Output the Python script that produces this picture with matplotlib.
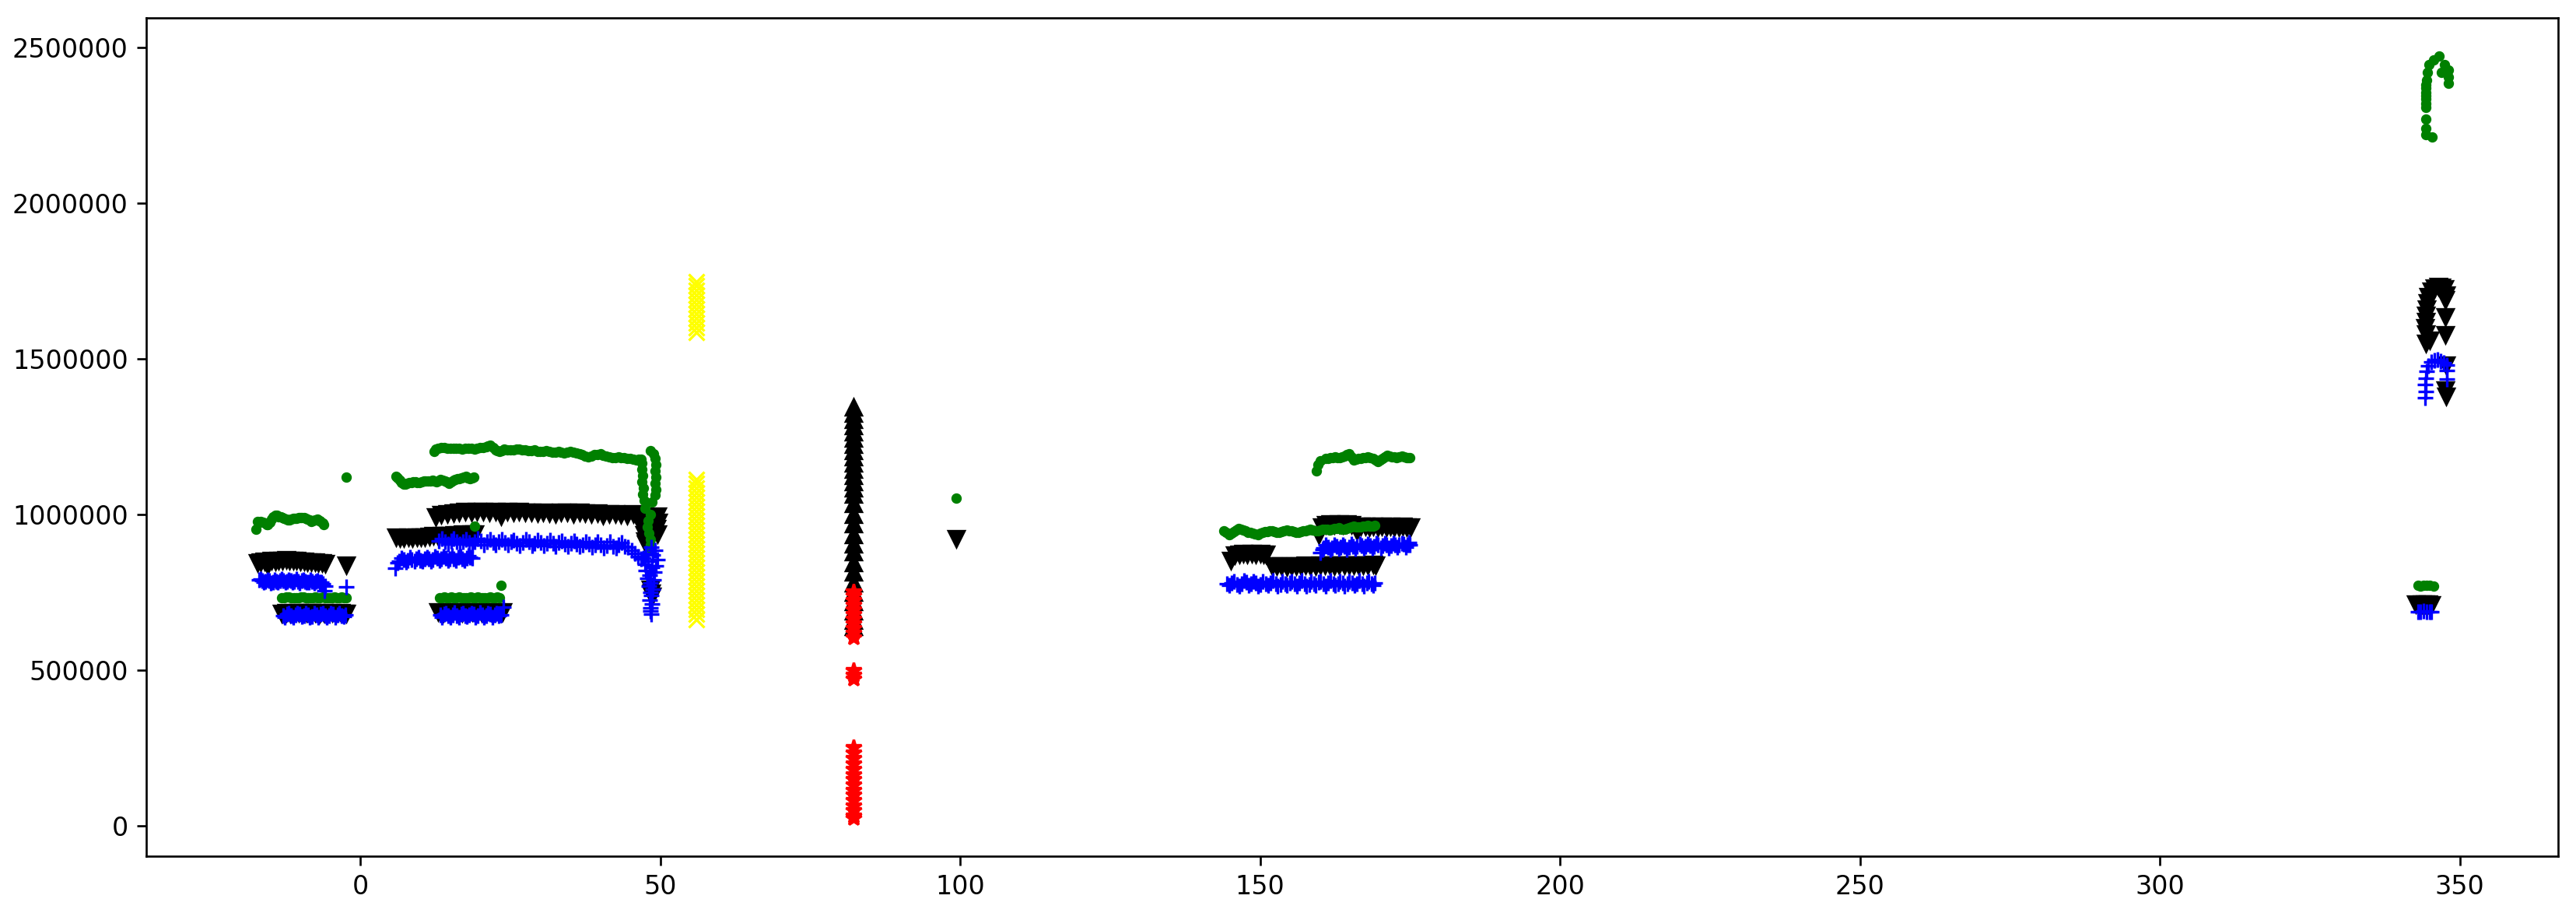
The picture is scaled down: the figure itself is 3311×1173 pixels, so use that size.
import matplotlib
matplotlib.use('Agg')
import matplotlib.pyplot as plt
import numpy as np

# values, y in thousands

# green dots
green_x = [-17.4, -17.2, -16.6, -15.9, -15.4, -14.8, -14.2, -13.6, -13.0, -12.4, -11.8, -11.2, -10.6, -10.0,
           -9.4, -8.8, -8.2, -7.6, -7.1, -6.6, -6.1,
           -2.4,
           -13.1, -12.3, -11.5, -10.7, -9.9, -9.1, -8.3, -7.5, -6.7, -5.9, -5.1, -4.3, -3.5, -2.7, -2.4,
           5.9, 6.6, 7.2, 7.8, 8.5, 9.2, 9.9, 10.6, 11.3, 12.0, 12.7, 13.4, 14.1, 14.8, 15.5, 16.2, 16.9,
           17.6, 18.3, 18.9,
           19.1,
           12.3, 13.0, 14.0, 15.0, 16.0, 17.0, 18.0, 19.0, 20.0, 21.0, 21.7, 22.5, 23.2, 24.0, 25.0, 26.0,
           27.0, 28.0, 29.0, 30.0, 31.0, 32.0, 33.0, 34.0, 35.0, 36.0, 37.0, 38.0, 39.0, 40.0, 41.0, 42.0,
           43.0, 44.0, 45.0, 46.0, 46.8,
           48.4, 48.9, 49.2, 49.3, 49.2, 49.3, 49.2, 49.3, 49.2, 47.0, 46.9, 47.1, 47.0, 47.2, 47.1, 47.3,
           47.4, 48.6, 48.3, 48.0, 47.8, 48.1, 48.3, 48.4, 48.5,
           13.2, 14.0, 14.8, 15.6, 16.4, 17.2, 18.0, 18.8, 19.6, 20.4, 21.2, 22.0, 22.8, 23.2,
           23.4,
           99.4,
           144.0, 144.8, 145.6, 146.4, 147.2, 148.0, 148.8, 149.6, 150.4, 151.2, 152.0, 152.8, 153.6, 154.4,
           155.2, 156.0, 156.8, 157.6, 158.4, 159.2, 160.0, 160.8, 161.6, 162.4, 163.2, 164.0, 164.8, 165.6,
           166.4, 167.2, 168.0, 168.8, 169.1,
           159.4, 159.7, 160.1, 160.9, 161.7, 162.5, 163.3, 164.1, 164.8, 165.6, 166.4, 167.2, 168.0, 168.8,
           169.6, 170.4, 171.2, 172.0, 172.8, 173.6, 174.4, 175.0,
           344.3, 344.3, 344.3, 344.3, 344.3, 344.3, 344.3, 344.3, 344.4, 344.4, 344.5, 344.6, 344.9, 345.6,
           346.5, 347.0, 347.4, 348.1, 348.1, 348.1, 345.4,
           343.0, 343.5, 344.0, 344.5, 345.0, 345.6]
green_y = [954, 979, 978, 972, 967, 985, 999, 994, 990, 985, 983, 988, 989, 990,
           991, 986, 979, 983, 985, 977, 967,
           1121,
           734, 735, 733, 734, 736, 734, 733, 735, 734, 733, 734, 735, 734, 733, 734,
           1124, 1110, 1097, 1100, 1104, 1106, 1103, 1108, 1107, 1110, 1106, 1112, 1109, 1101, 1110, 1115, 1118,
           1122, 1116, 1120,
           962,
           1204, 1214, 1216, 1212, 1213, 1211, 1214, 1210, 1215, 1218, 1224, 1208, 1203, 1210, 1208, 1211,
           1209, 1205, 1207, 1202, 1206, 1200, 1203, 1199, 1204, 1198, 1192, 1185, 1193, 1195, 1188, 1182,
           1186, 1183, 1180, 1176, 1178,
           1205, 1196, 1180, 1160, 1140, 1120, 1100, 1080, 1062, 1165, 1145, 1125, 1105, 1085, 1065, 1045,
           1020, 1040, 1000, 980, 960, 940, 920, 903, 890,
           734, 735, 733, 734, 735, 734, 733, 734, 735, 734, 733, 734, 735, 734,
           772,
           1054,
           949, 936, 945, 955, 950, 944, 940, 936, 943, 946, 948, 942, 945, 950,
           947, 943, 946, 949, 952, 948, 951, 954, 950, 955, 957, 952, 958, 962,
           960, 963, 966, 962, 965,
           1141, 1160, 1174, 1180, 1182, 1185, 1184, 1188, 1196, 1176, 1180, 1183, 1186, 1180,
           1171, 1180, 1191, 1186, 1184, 1187, 1183, 1184,
           2220, 2240, 2270, 2308, 2320, 2335, 2345, 2355, 2370, 2380, 2395, 2420, 2445, 2460,
           2473, 2420, 2445, 2428, 2405, 2385, 2213,
           772, 771, 772, 773, 772, 771]

# green readings in between the ones above (the bands are dense)
green_fill_x = [-16.9, -16.2, -15.6, -15.1, -14.5, -13.9, -13.3, -12.7, -12.1, -11.5, -10.9, -10.3, -9.7,
                -9.1, -8.5, -7.9, -7.3, -6.8, -6.3,
                -12.7, -11.9, -11.1, -10.3, -9.5, -8.7, -7.9, -7.1, -6.3, -5.5, -4.7, -3.9, -3.1,
                6.2, 6.9, 7.5, 8.1, 8.8, 9.5, 10.2, 10.9, 11.6, 12.3, 13.0, 13.7, 14.4, 15.1, 15.8, 16.5,
                17.2, 17.9, 18.6,
                12.6, 13.5, 14.5, 15.5, 16.5, 17.5, 18.5, 19.5, 20.5, 21.3, 22.1, 22.8, 23.6, 24.5, 25.5,
                26.5, 27.5, 28.5, 29.5, 30.5, 31.5, 32.5, 33.5, 34.5, 35.5, 36.5, 37.5, 38.5, 39.5, 40.5,
                41.5, 42.5, 43.5, 44.5, 45.5, 46.4,
                13.6, 14.4, 15.2, 16.0, 16.8, 17.6, 18.4, 19.2, 20.0, 20.8, 21.6, 22.4,
                144.4, 145.2, 146.0, 146.8, 147.6, 148.4, 149.2, 150.0, 150.8, 151.6, 152.4, 153.2, 154.0,
                154.8, 155.6, 156.4, 157.2, 158.0, 158.8, 159.6, 160.4, 161.2, 162.0, 162.8, 163.6, 164.4,
                165.2, 166.0, 166.8, 167.6, 168.4,
                161.3, 162.1, 162.9, 163.7, 164.5, 165.2, 166.0, 166.8, 167.6, 168.4, 169.2, 170.0, 170.8,
                171.6, 172.4, 173.2, 174.0, 174.7]
green_fill_y = [976, 975, 969, 975, 992, 997, 992, 988, 984, 985, 989, 990, 991,
                989, 982, 981, 984, 981, 972,
                734, 735, 734, 733, 735, 734, 734, 733, 735, 734, 733, 734, 735,
                1117, 1103, 1098, 1102, 1105, 1104, 1105, 1107, 1108, 1108, 1109, 1110, 1105, 1105, 1112, 1116,
                1120, 1119, 1118,
                1210, 1215, 1214, 1212, 1212, 1213, 1212, 1212, 1216, 1221, 1216, 1205, 1206, 1209, 1209,
                1210, 1207, 1206, 1204, 1204, 1203, 1201, 1201, 1201, 1201, 1195, 1188, 1189, 1194, 1191,
                1185, 1184, 1184, 1181, 1178, 1177,
                734, 733, 735, 734, 734, 733, 735, 734, 733, 734, 735, 734,
                942, 940, 950, 953, 947, 942, 938, 940, 945, 947, 945, 943, 948,
                948, 945, 944, 947, 950, 950, 949, 952, 952, 952, 956, 954, 955,
                960, 961, 961, 964, 964,
                1181, 1183, 1184, 1186, 1192, 1186, 1178, 1181, 1184, 1183, 1175, 1176, 1185,
                1188, 1185, 1185, 1185, 1183]

# black down triangles
tri_dn_x = [-17.2, -16.6, -16.0, -15.4, -14.8, -14.2, -13.6, -13.0, -12.4, -11.8, -11.2, -10.6, -10.0, -9.4,
            -8.8, -8.2, -7.6, -7.0, -6.4, -5.9,
            -2.4,
            -13.1, -12.4, -11.7, -11.0, -10.3, -9.6, -8.9, -8.2, -7.5, -6.8, -6.1, -5.4, -4.7, -4.0, -3.3,
            -2.6, -2.3,
            5.9, 6.6, 7.3, 8.0, 8.7, 9.4, 10.1, 10.8, 11.5, 12.2, 12.9, 13.6, 14.3, 15.0, 15.7, 16.4, 17.1,
            17.8, 18.5, 19.1,
            12.6, 13.5, 14.5, 15.5, 16.5, 17.5, 18.5, 19.5, 20.5, 21.5, 22.5, 23.5, 24.5, 25.5, 26.5, 27.5,
            28.5, 29.5, 30.5, 31.5, 32.5, 33.5, 34.5, 35.5, 36.5, 37.5, 38.5, 39.5, 40.5, 41.5, 42.5, 43.5,
            44.5, 45.5, 46.5,
            47.2, 47.0, 47.3, 47.5, 47.6, 49.5, 49.6, 49.4, 49.5, 48.3, 48.5, 48.6,
            99.4,
            13.0, 13.8, 14.6, 15.4, 16.2, 17.0, 17.8, 18.6, 19.4, 20.2, 21.0, 21.8, 22.6, 23.4, 23.7,
            145.1, 145.8, 146.5, 147.2, 147.9, 148.6, 149.3, 150.0, 150.6, 151.0,
            152.0, 152.8, 153.6, 154.4, 155.2, 156.0, 156.8, 157.6, 158.4, 159.2, 160.0, 160.8, 161.6, 162.4,
            163.2, 164.0, 164.8, 165.6, 166.4, 167.2, 168.0, 168.8, 169.3,
            159.8, 160.3, 161.0, 161.7, 162.4, 163.1, 163.8, 164.5, 165.2, 166.1, 166.8, 167.5, 168.2, 168.9,
            169.6, 170.3, 171.0, 171.7, 172.4, 173.1, 173.8, 174.5, 175.1,
            344.3, 345.0, 344.4, 344.2, 344.3, 344.4, 344.5, 344.6, 344.8, 345.2, 345.8, 346.4, 347.0, 347.5,
            347.7, 347.6, 347.6, 347.6, 347.7, 347.6, 347.7,
            342.7, 343.2, 343.7, 344.2, 344.7, 345.3]
tri_dn_y = [846, 849, 850, 838, 852, 851, 853, 854, 855, 854, 853, 852, 851, 850,
            849, 848, 847, 846, 845, 844,
            837,
            684, 685, 684, 686, 685, 684, 685, 686, 685, 684, 685, 684, 685, 684, 685,
            684, 684,
            928, 926, 925, 927, 926, 928, 927, 929, 930, 932, 931, 933, 934, 933, 935, 936, 937,
            936, 938, 937,
            992, 1000, 1004, 1006, 1008, 1010, 1009, 1011, 1010, 1008, 1011, 996, 1010, 1009, 1010, 1007,
            1009, 1005, 1008, 1006, 1002, 1009, 1007, 1004, 1008, 1006, 1003, 1005, 998, 1004, 1003, 1001,
            999, 1002, 1000,
            985, 960, 935, 915, 905, 995, 975, 955, 937, 760, 748, 738,
            924,
            687, 686, 687, 688, 687, 686, 687, 688, 687, 686, 687, 688, 687, 686, 687,
            852, 870, 874, 875, 873, 876, 874, 875, 873, 872,
            835, 836, 835, 834, 836, 835, 836, 837, 836, 835, 837, 838, 837, 836,
            838, 837, 839, 838, 837, 839, 838, 840, 839,
            935, 960, 968, 970, 969, 971, 968, 970, 967, 949, 962, 963, 961, 962,
            960, 963, 961, 962, 960, 961, 962, 960, 961,
            1551, 1560, 1580, 1600, 1620, 1640, 1660, 1680, 1700, 1718, 1728, 1732, 1731, 1725,
            1705, 1690, 1636, 1578, 1480, 1400, 1380,
            712, 711, 712, 713, 712, 711]

# blue plus
plus_x = [-16.9, -16.4, -15.8, -15.2, -14.6, -14.0, -13.4, -12.8, -12.2, -11.6, -11.0, -10.4, -9.8, -9.2,
          -8.6, -8.0, -7.4, -6.8, -6.3, -5.9, -6.0,
          -2.3,
          -12.9, -12.2, -11.5, -10.8, -10.1, -9.4, -8.7, -8.0, -7.3, -6.6, -5.9, -5.2, -4.5, -3.8, -3.1, -2.5,
          5.8, 6.5, 7.2, 7.9, 8.6, 9.3, 10.0, 10.7, 11.4, 12.1, 12.8, 13.5, 14.2, 14.9, 15.6, 16.3, 17.0,
          17.7, 18.3, 18.7,
          13.1, 14.1, 15.1, 16.1, 17.1, 18.1, 19.1, 20.1, 21.1, 22.1, 23.1, 24.1, 25.1, 26.1, 27.1, 28.1,
          29.1, 30.1, 31.1, 32.1, 33.1, 34.1, 35.1, 36.1, 37.1, 38.1, 39.1, 40.1, 41.1, 42.1, 43.1, 44.1,
          44.6, 45.2, 45.8, 46.3, 46.8,
          48.5, 49.2, 47.6, 48.8, 47.2, 49.5, 48.0, 47.4, 49.3, 48.6, 47.6, 49.0, 48.2, 47.8, 48.9, 48.4,
          48.1, 48.7, 48.3, 48.5, 48.2, 48.6, 48.4, 48.3, 48.5,
          13.3, 14.0, 14.7, 15.4, 16.1, 16.8, 17.5, 18.2, 18.9, 19.6, 20.3, 21.0, 21.7, 22.4, 23.1, 23.4,
          23.9,
          144.5, 145.3, 146.1, 146.9, 147.7, 148.5, 149.3, 150.1, 150.9, 151.8, 152.6, 153.4, 154.2, 155.0,
          155.8, 156.6, 157.4, 158.2, 159.0, 159.8, 160.6, 161.4, 162.2, 163.0, 163.8, 164.6, 165.4, 166.2,
          167.0, 167.8, 168.6, 169.1,
          160.1, 160.6, 161.3, 162.0, 162.7, 163.4, 164.1, 164.8, 165.5, 166.2, 166.9, 167.6, 168.3, 169.0,
          169.7, 170.4, 171.1, 171.8, 172.5, 173.2, 173.9, 174.6, 175.0,
          344.2, 344.3, 344.2, 344.4, 344.5, 344.7, 345.2, 345.8, 346.3, 346.8, 347.3, 347.8, 347.8, 347.9,
          343.1, 343.5, 344.0, 344.5, 345.0, 345.3]
plus_y = [790, 788, 785, 787, 784, 786, 789, 788, 786, 787, 785, 786, 787, 785,
          784, 786, 785, 782, 778, 770, 756,
          767,
          676, 679, 674, 677, 680, 675, 678, 673, 677, 680, 676, 674, 679, 677, 675, 678,
          829, 850, 855, 852, 856, 858, 854, 857, 859, 856, 860, 858, 861, 857, 859, 862, 858,
          860, 863, 861,
          915, 913, 916, 912, 914, 911, 913, 915, 912, 910, 913, 911, 912, 909, 910, 912,
          908, 911, 909, 907, 910, 906, 908, 905, 903, 906, 902, 904, 901, 899, 902, 898,
          895, 885, 875, 866, 858,
          895, 885, 875, 870, 860, 855, 850, 840, 835, 830, 820, 815, 805, 795, 790, 780,
          770, 760, 750, 740, 725, 712, 700, 690, 680,
          677, 680, 675, 678, 676, 679, 674, 677, 680, 676, 678, 675, 679, 677, 676, 678,
          704,
          778, 781, 776, 779, 782, 777, 780, 775, 779, 780, 778, 776, 779, 781,
          777, 780, 778, 776, 779, 782, 778, 780, 777, 779, 781, 778, 780, 777,
          779, 781, 778, 780,
          879, 892, 895, 894, 897, 896, 898, 895, 899, 897, 900, 898, 901, 899,
          902, 900, 903, 901, 904, 902, 905, 903, 904,
          1376, 1396, 1419, 1439, 1461, 1478, 1490, 1495, 1497, 1493, 1488, 1480, 1462, 1436,
          689, 687, 690, 688, 689, 687]

# blue readings in between the ones above
plus_fill_x = [-16.6, -16.1, -15.5, -14.9, -14.3, -13.7, -13.1, -12.5, -11.9, -11.3, -10.7, -10.1, -9.5,
               -8.9, -8.3, -7.7, -7.1, -6.5,
               -12.6, -11.9, -11.2, -10.5, -9.8, -9.1, -8.4, -7.7, -7.0, -6.3, -5.6, -4.9, -4.2, -3.5, -2.8,
               6.2, 6.9, 7.6, 8.3, 9.0, 9.7, 10.4, 11.1, 11.8, 12.5, 13.2, 13.9, 14.6, 15.3, 16.0, 16.7,
               17.4, 18.0,
               13.6, 14.6, 15.6, 16.6, 17.6, 18.6, 19.6, 20.6, 21.6, 22.6, 23.6, 24.6, 25.6, 26.6, 27.6,
               28.6, 29.6, 30.6, 31.6, 32.6, 33.6, 34.6, 35.6, 36.6, 37.6, 38.6, 39.6, 40.6, 41.6, 42.6, 43.6,
               13.6, 14.3, 15.0, 15.7, 16.4, 17.1, 17.8, 18.5, 19.2, 19.9, 20.6, 21.3, 22.0, 22.7,
               144.9, 145.7, 146.5, 147.3, 148.1, 148.9, 149.7, 150.5, 151.3, 152.1, 152.9, 153.7, 154.5,
               155.3, 156.1, 156.9, 157.7, 158.5, 159.3, 160.1, 160.9, 161.7, 162.5, 163.3, 164.1, 164.9,
               165.7, 166.5, 167.3, 168.1, 168.9,
               160.4, 161.0, 161.7, 162.4, 163.1, 163.8, 164.5, 165.2, 165.9, 166.6, 167.3, 168.0, 168.7,
               169.4, 170.1, 170.8, 171.5, 172.2, 172.9, 173.6, 174.3, 174.8]
plus_fill_y = [793, 782, 790, 781, 791, 783, 792, 782, 790, 784, 792, 781, 790,
               783, 791, 780, 789, 784,
               670, 683, 671, 682, 672, 684, 670, 683, 671, 682, 670, 684, 671, 683, 672,
               845, 861, 849, 863, 850, 862, 851, 864, 850, 865, 853, 866, 852, 867, 853, 866,
               854, 868,
               922, 906, 923, 905, 921, 904, 922, 903, 920, 903, 921, 902, 919, 901, 920,
               900, 918, 900, 917, 899, 916, 898, 915, 897, 914, 896, 913, 894, 912, 893, 910,
               670, 684, 671, 685, 670, 684, 672, 683, 670, 685, 671, 684, 670, 683,
               772, 786, 771, 787, 772, 785, 770, 786, 772, 787, 771, 785, 772,
               786, 771, 787, 770, 785, 772, 786, 771, 787, 772, 786, 771, 785,
               772, 787, 771, 786, 772,
               888, 902, 889, 903, 890, 904, 889, 905, 891, 905, 892, 906, 893,
               907, 892, 908, 894, 908, 895, 909, 896, 910]

# black up triangles, red stars, yellow crosses
tri_up_x = [82.2] * 29
tri_up_y = [1346, 1325, 1305, 1285, 1265, 1245, 1225, 1205, 1185, 1165, 1145, 1125, 1105, 1085, 1065,
            1035, 1000, 970, 935, 905, 880, 845, 815, 780, 750, 720, 690, 660, 640]
star_x = [82.2] * 29
star_y = [754, 740, 725, 710, 695, 680, 665, 650, 635, 620, 604,
          500, 486, 472,
          252, 235, 218, 200, 183, 166, 150, 133, 116, 100, 83, 66, 50, 33, 25]
cross_x = [56.0] * 43
cross_y = [1748, 1735, 1720, 1705, 1690, 1675, 1660, 1645, 1630, 1615, 1600, 1586,
           1114, 1100, 1085, 1070, 1055, 1040, 1025, 1010, 995, 980, 965, 950, 935, 920, 905, 890,
           875, 860, 845, 830, 815, 800, 785, 770, 755, 740, 725, 710, 695, 680, 662]

fig = plt.figure(figsize=(3311 / 240., 1173 / 240.), dpi=240, facecolor='white')
ax = fig.add_axes([0.0568, 0.0622, 0.9362, 0.9182])

k = 1000.
ax.plot(tri_dn_x, np.array(tri_dn_y) * k, 'kv', linestyle='None')
ax.plot(tri_up_x, np.array(tri_up_y) * k, 'k^', linestyle='None')
ax.plot(green_x + green_fill_x, np.array(green_y + green_fill_y) * k, 'g.', linestyle='None')
ax.plot(plus_x + plus_fill_x, np.array(plus_y + plus_fill_y) * k, 'b+', linestyle='None')
ax.plot(star_x, np.array(star_y) * k, 'r*', linestyle='None')
ax.plot(cross_x, np.array(cross_y) * k, 'x', color='yellow', linestyle='None')

ax.ticklabel_format(axis='y', style='plain', useOffset=False)

fig.savefig('out.png', dpi=240)
